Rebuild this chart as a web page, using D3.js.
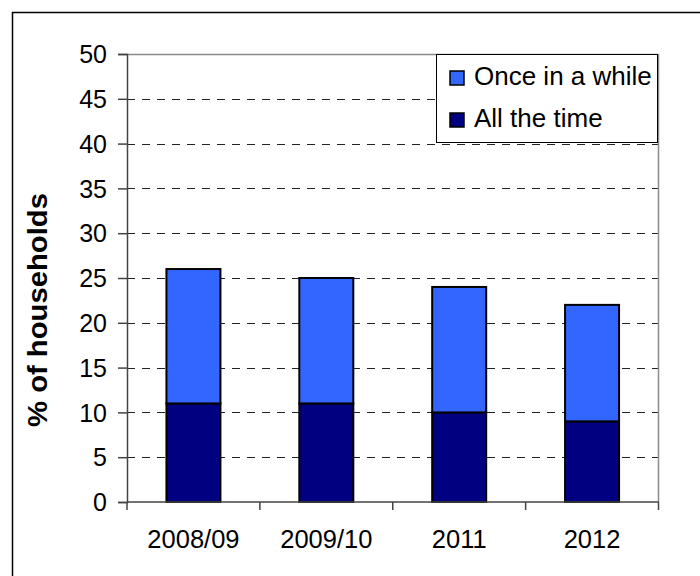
<!DOCTYPE html>
<html>
<head>
<meta charset="utf-8">
<script src="https://cdn.jsdelivr.net/npm/d3@7/dist/d3.min.js"></script>
<style>
  html, body { margin: 0; padding: 0; background: #fff; }
  svg { display: block; font-family: "Liberation Sans", Arial, sans-serif; }
</style>
</head>
<body>
<svg id="chart" width="700" height="576"></svg>
<script>
// Households reporting the issue, by survey year (% of households)
const categories = ["2008/09", "2009/10", "2011", "2012"];
const allTheTime = [11, 11, 10, 9];
const onceInAWhile = [15, 14, 14, 13];
const yTicks = [0, 5, 10, 15, 20, 25, 30, 35, 40, 45, 50];
const seriesNames = ["Once in a while", "All the time"];
const seriesColors = { "Once in a while": "#3366FF", "All the time": "#000080" };

const svg = d3.select("#chart");

// outer frame
svg.append("rect")
  .attr("x", 12.5).attr("y", 12.5)
  .attr("width", 700).attr("height", 600)
  .attr("fill", "none").attr("stroke", "#000").attr("stroke-width", 1.5);

const plot = { left: 127, right: 658.5, top: 54, bottom: 502 };

const x = d3.scaleBand().domain(categories).range([plot.left, plot.right]).paddingInner(0).paddingOuter(0);
const y = d3.scaleLinear().domain([0, 50]).range([plot.bottom, plot.top]);

// stacked data
const rows = categories.map((c, i) => ({ cat: c, "All the time": allTheTime[i], "Once in a while": onceInAWhile[i] }));
const stack = d3.stack().keys(["All the time", "Once in a while"]);
const layers = stack(rows);

// gridlines
const g = svg.append("g");
g.selectAll("line.grid").data(yTicks.filter(t => t > 0 && t < 50)).join("line")
  .attr("class", "grid")
  .attr("x1", plot.left).attr("x2", plot.right)
  .attr("y1", d => Math.round(y(d)) + 0.5).attr("y2", d => Math.round(y(d)) + 0.5)
  .attr("stroke", "#222").attr("stroke-width", 1).attr("stroke-dasharray", "8,7");

// plot area top and right borders
svg.append("line").attr("x1", plot.left).attr("x2", plot.right)
  .attr("y1", plot.top + 0.5).attr("y2", plot.top + 0.5)
  .attr("stroke", "#8c8c8c").attr("stroke-width", 1.5);
svg.append("line").attr("x1", plot.right).attr("x2", plot.right)
  .attr("y1", plot.top).attr("y2", plot.bottom)
  .attr("stroke", "#8c8c8c").attr("stroke-width", 1.5);

// bars
const barW = 54;
svg.append("g").selectAll("g").data(layers).join("g")
  .attr("fill", d => seriesColors[d.key])
  .selectAll("rect").data(d => d).join("rect")
  .attr("x", d => x(d.data.cat) + x.bandwidth() / 2 - barW / 2)
  .attr("width", barW)
  .attr("y", d => y(d[1]))
  .attr("height", d => y(d[0]) - y(d[1]))
  .attr("stroke", "#000").attr("stroke-width", 2);

// y axis
const yAxis = d3.axisLeft(y).tickValues(yTicks).tickSize(9).tickPadding(11);
const ya = svg.append("g").attr("transform", `translate(${plot.left},0)`).call(yAxis);
ya.select(".domain").attr("stroke", "#444").attr("stroke-width", 1.5);
ya.selectAll(".tick line").attr("stroke", "#444").attr("stroke-width", 1.5);
ya.selectAll(".tick text").attr("font-size", 25).attr("fill", "#000")
  .attr("font-family", "Liberation Sans, Arial, sans-serif").attr("dy", "0.35em");

// x axis with ticks at category boundaries
const xa = svg.append("g").attr("transform", `translate(0,${plot.bottom})`);
xa.append("line").attr("x1", plot.left).attr("x2", plot.right)
  .attr("stroke", "#444").attr("stroke-width", 1.5);
const bounds = categories.map(c => x(c)).concat([plot.right]);
xa.selectAll("line.tk").data(bounds).join("line").attr("class", "tk")
  .attr("x1", d => d).attr("x2", d => d).attr("y1", 0).attr("y2", 8)
  .attr("stroke", "#444").attr("stroke-width", 1.5);
xa.selectAll("text").data(categories).join("text")
  .attr("x", d => x(d) + x.bandwidth() / 2).attr("y", 45.5)
  .attr("text-anchor", "middle").attr("font-size", 25.5).attr("fill", "#000")
  .text(d => d);

// y axis title
svg.append("text")
  .attr("transform", "translate(47,310) rotate(-90)")
  .attr("text-anchor", "middle")
  .attr("font-size", 27).attr("font-weight", "bold").attr("fill", "#000")
  .attr("textLength", 234).attr("lengthAdjust", "spacingAndGlyphs")
  .text("% of households");

// legend
const lg = svg.append("g");
lg.append("rect").attr("x", 436.5).attr("y", 54.5).attr("width", 221).attr("height", 88)
  .attr("fill", "#fff").attr("stroke", "#000").attr("stroke-width", 1);
const items = lg.selectAll("g.item").data(seriesNames).join("g").attr("class", "item")
  .attr("transform", (d, i) => `translate(450,${71 + i * 42})`);
items.append("rect").attr("width", 14).attr("height", 14)
  .attr("fill", d => seriesColors[d]).attr("stroke", "#000").attr("stroke-width", 1.5);
items.append("text").attr("x", 24).attr("y", 13.5)
  .attr("font-size", 26).attr("fill", "#000").text(d => d);
</script>
</body>
</html>
